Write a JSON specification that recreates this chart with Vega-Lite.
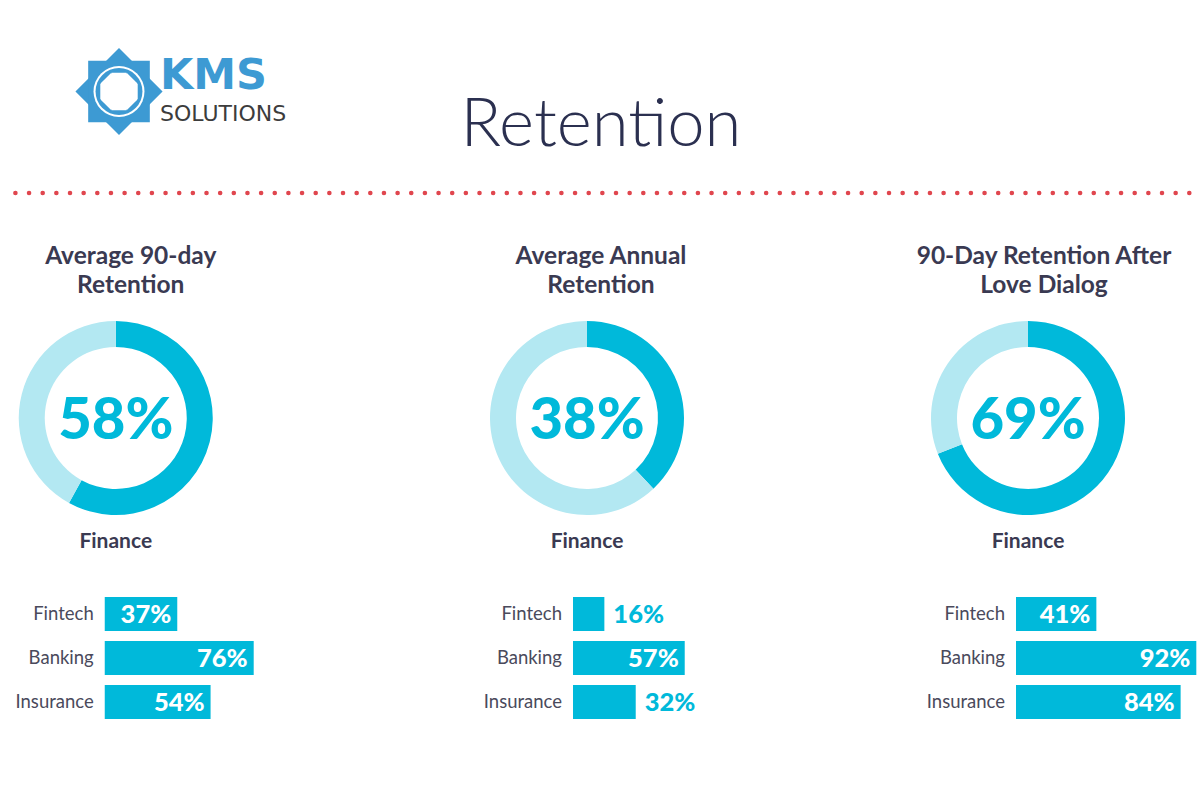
{
  "$schema": "https://vega.github.io/schema/vega-lite/v6.json",
  "background": "white",
  "padding": 0,
  "autosize": {"type": "pad"},
  "bounds": "flush",
  "spacing": 128,
  "config": {
    "view": {"stroke": null},
    "font": "Lato",
    "title": {"font": "Lato", "color": "#3a3a52", "fontWeight": "bold"}
  },
  "datasets": {
    "donut": [
      {"metric": "Average 90-day Retention", "seg": "Retained", "v": 0.58},
      {"metric": "Average 90-day Retention", "seg": "Not retained", "v": 0.42},
      {"metric": "Average Annual Retention", "seg": "Retained", "v": 0.38},
      {"metric": "Average Annual Retention", "seg": "Not retained", "v": 0.62},
      {"metric": "90-Day Retention After Love Dialog", "seg": "Retained", "v": 0.69},
      {"metric": "90-Day Retention After Love Dialog", "seg": "Not retained", "v": 0.31}
    ],
    "bars": [
      {"metric": "Average 90-day Retention", "sector": "Fintech", "v": 0.37},
      {"metric": "Average 90-day Retention", "sector": "Banking", "v": 0.76},
      {"metric": "Average 90-day Retention", "sector": "Insurance", "v": 0.54},
      {"metric": "Average Annual Retention", "sector": "Fintech", "v": 0.16},
      {"metric": "Average Annual Retention", "sector": "Banking", "v": 0.57},
      {"metric": "Average Annual Retention", "sector": "Insurance", "v": 0.32},
      {"metric": "90-Day Retention After Love Dialog", "sector": "Fintech", "v": 0.41},
      {"metric": "90-Day Retention After Love Dialog", "sector": "Banking", "v": 0.92},
      {"metric": "90-Day Retention After Love Dialog", "sector": "Insurance", "v": 0.84}
    ],
    "header": [{"title": "Retention", "brand": "KMS", "sub": "SOLUTIONS"}]
  },
  "vconcat": [
    {
      "width": 1200,
      "height": 193,
      "data": {"name": "header"},
      "layer": [
        {
          "mark": {"type": "rule", "color": "#E0464E", "strokeWidth": 4.5, "strokeDash": [0.1, 13.55], "strokeCap": "round"},
          "encoding": {"y": {"datum": 0, "type": "quantitative", "scale": {"domain": [0, 1]}, "axis": null}}
        },
        {
          "mark": {"type": "point", "shape": "diamond", "size": 7600, "filled": true, "color": "#3D9AD3", "opacity": 1, "strokeWidth": 0, "xOffset": -484, "yOffset": -5},
          "encoding": {}
        },
        {
          "mark": {"type": "point", "shape": "square", "size": 3800, "filled": true, "color": "#3D9AD3", "opacity": 1, "strokeWidth": 0, "xOffset": -484, "yOffset": -5},
          "encoding": {}
        },
        {
          "mark": {"type": "point", "shape": "circle", "size": 2600, "filled": true, "color": "white", "opacity": 1, "strokeWidth": 0, "xOffset": -484, "yOffset": -5},
          "encoding": {}
        },
        {
          "mark": {"type": "point", "shape": "circle", "size": 2200, "filled": true, "color": "#3D9AD3", "opacity": 1, "strokeWidth": 0, "xOffset": -484, "yOffset": -5},
          "encoding": {}
        },
        {
          "mark": {"type": "point", "shape": "cross", "size": 1400, "filled": true, "color": "white", "opacity": 1, "strokeWidth": 0, "xOffset": -484, "yOffset": -5},
          "encoding": {}
        },
        {
          "mark": {"type": "point", "shape": "cross", "size": 1400, "angle": 45, "filled": true, "color": "white", "opacity": 1, "strokeWidth": 0, "xOffset": -484, "yOffset": -5},
          "encoding": {}
        },
        {
          "mark": {"type": "point", "shape": "circle", "size": 700, "filled": true, "color": "white", "opacity": 1, "strokeWidth": 0, "xOffset": -484, "yOffset": -5},
          "encoding": {}
        },
        {
          "mark": {"type": "text", "font": "DejaVu Sans", "fontWeight": "bold", "fontSize": 43, "color": "#3D9AD3", "align": "left", "baseline": "alphabetic", "dx": -443, "dy": -8},
          "encoding": {"text": {"field": "brand"}}
        },
        {
          "mark": {"type": "text", "font": "DejaVu Sans", "fontSize": 22, "color": "#3c3c3c", "align": "left", "baseline": "alphabetic", "dx": -443, "dy": 24.5},
          "encoding": {"text": {"field": "sub"}}
        },
        {
          "mark": {"type": "text", "font": "Lato", "fontWeight": 300, "fontSize": 67, "color": "#2B3050", "align": "center", "baseline": "alphabetic", "dx": -2, "dy": 49.5},
          "encoding": {"text": {"field": "title"}}
        }
      ]
    },
    {
      "columns": 3,
      "align": "each",
      "bounds": "flush",
      "spacing": {"row": 77, "column": 0},
      "concat": [
        {
          "width": 225.5,
          "height": 194,
          "title": {"text": ["Average 90-day", "Retention"], "anchor": "middle", "dx": 15, "fontSize": 24.5, "lineHeight": 29, "offset": 23},
          "data": {"name": "donut"},
          "transform": [{"filter": "datum.metric === 'Average 90-day Retention'"}],
          "layer": [
            {
              "mark": {"type": "arc", "outerRadius": 97, "innerRadius": 71},
              "encoding": {
                "theta": {"field": "v", "type": "quantitative", "stack": true},
                "color": {"field": "seg", "type": "nominal", "scale": {"domain": ["Retained", "Not retained"], "range": ["#00B9DA", "#B3E8F2"]}, "legend": null},
                "order": {"field": "seg", "sort": "descending"}
              }
            },
            {
              "transform": [{"filter": "datum.seg === 'Retained'"}],
              "mark": {"type": "text", "fontSize": 58, "fontWeight": 900, "color": "#00B9DA", "baseline": "middle", "dy": 4},
              "encoding": {"text": {"field": "v", "type": "quantitative", "format": ".0%"}}
            }
          ]
        },
        {
          "width": 194,
          "height": 194,
          "title": {"text": ["Average Annual", "Retention"], "anchor": "middle", "dx": 14, "fontSize": 24.5, "lineHeight": 29, "offset": 23},
          "data": {"name": "donut"},
          "transform": [{"filter": "datum.metric === 'Average Annual Retention'"}],
          "layer": [
            {
              "mark": {"type": "arc", "outerRadius": 97, "innerRadius": 71},
              "encoding": {
                "theta": {"field": "v", "type": "quantitative", "stack": true},
                "color": {"field": "seg", "type": "nominal", "scale": {"domain": ["Retained", "Not retained"], "range": ["#00B9DA", "#B3E8F2"]}, "legend": null},
                "order": {"field": "seg", "sort": "descending"}
              }
            },
            {
              "transform": [{"filter": "datum.seg === 'Retained'"}],
              "mark": {"type": "text", "fontSize": 58, "fontWeight": 900, "color": "#00B9DA", "baseline": "middle", "dy": 4},
              "encoding": {"text": {"field": "v", "type": "quantitative", "format": ".0%"}}
            }
          ]
        },
        {
          "width": 194,
          "height": 194,
          "title": {"text": ["90-Day Retention After", "Love Dialog"], "anchor": "middle", "dx": 16, "fontSize": 24.5, "lineHeight": 29, "offset": 23},
          "data": {"name": "donut"},
          "transform": [{"filter": "datum.metric === '90-Day Retention After Love Dialog'"}],
          "layer": [
            {
              "mark": {"type": "arc", "outerRadius": 97, "innerRadius": 71},
              "encoding": {
                "theta": {"field": "v", "type": "quantitative", "stack": true},
                "color": {"field": "seg", "type": "nominal", "scale": {"domain": ["Retained", "Not retained"], "range": ["#00B9DA", "#B3E8F2"]}, "legend": null},
                "order": {"field": "seg", "sort": "descending"}
              }
            },
            {
              "transform": [{"filter": "datum.seg === 'Retained'"}],
              "mark": {"type": "text", "fontSize": 58, "fontWeight": 900, "color": "#00B9DA", "baseline": "middle", "dy": 4},
              "encoding": {"text": {"field": "v", "type": "quantitative", "format": ".0%"}}
            }
          ]
        },
        {
          "width": 486.75,
          "height": 132,
          "title": {"text": "Finance", "anchor": "start", "frame": "group", "align": "center", "dx": 112.75, "fontSize": 21, "offset": 40},
          "data": {"name": "bars"},
          "transform": [{"filter": "datum.metric === 'Average 90-day Retention'"}],
          "encoding": {
            "y": {"field": "sector", "type": "nominal", "sort": ["Fintech", "Banking", "Insurance"], "axis": null, "scale": {"paddingInner": 0.227, "paddingOuter": 0.1136}}
          },
          "layer": [
            {
              "mark": {"type": "bar", "color": "#00B9DA"},
              "encoding": {"x": {"field": "v", "type": "quantitative", "scale": {"domain": [-0.5191, 1.9643], "nice": false, "zero": false}, "axis": null}}
            },
            {
              "mark": {"type": "text", "align": "right", "dx": -11, "fontSize": 18.5, "color": "#4a4a5c"},
              "encoding": {"x": {"datum": 0, "type": "quantitative", "scale": {"domain": [-0.5191, 1.9643], "nice": false, "zero": false}}, "text": {"field": "sector"}}
            },
            {
              "transform": [{"filter": "datum.v >= 0.35"}],
              "mark": {"type": "text", "align": "right", "dx": -6, "dy": 1, "fontSize": 25.5, "fontWeight": 900, "color": "white"},
              "encoding": {"x": {"field": "v", "type": "quantitative", "scale": {"domain": [-0.5191, 1.9643], "nice": false, "zero": false}}, "text": {"field": "v", "type": "quantitative", "format": ".0%"}}
            },
            {
              "transform": [{"filter": "datum.v < 0.35"}],
              "mark": {"type": "text", "align": "left", "dx": 9, "dy": 1, "fontSize": 25.5, "fontWeight": 900, "color": "#00B9DA"},
              "encoding": {"x": {"field": "v", "type": "quantitative", "scale": {"domain": [-0.5191, 1.9643], "nice": false, "zero": false}}, "text": {"field": "v", "type": "quantitative", "format": ".0%"}}
            }
          ]
        },
        {
          "width": 441,
          "height": 132,
          "title": {"text": "Finance", "anchor": "start", "frame": "group", "align": "center", "dx": 97, "fontSize": 21, "offset": 40},
          "data": {"name": "bars"},
          "transform": [{"filter": "datum.metric === 'Average Annual Retention'"}],
          "encoding": {
            "y": {"field": "sector", "type": "nominal", "sort": ["Fintech", "Banking", "Insurance"], "axis": null, "scale": {"paddingInner": 0.227, "paddingOuter": 0.1136}}
          },
          "layer": [
            {
              "mark": {"type": "bar", "color": "#00B9DA"},
              "encoding": {"x": {"field": "v", "type": "quantitative", "scale": {"domain": [-0.4235, 1.8265], "nice": false, "zero": false}, "axis": null}}
            },
            {
              "mark": {"type": "text", "align": "right", "dx": -11, "fontSize": 18.5, "color": "#4a4a5c"},
              "encoding": {"x": {"datum": 0, "type": "quantitative", "scale": {"domain": [-0.4235, 1.8265], "nice": false, "zero": false}}, "text": {"field": "sector"}}
            },
            {
              "transform": [{"filter": "datum.v >= 0.35"}],
              "mark": {"type": "text", "align": "right", "dx": -6, "dy": 1, "fontSize": 25.5, "fontWeight": 900, "color": "white"},
              "encoding": {"x": {"field": "v", "type": "quantitative", "scale": {"domain": [-0.4235, 1.8265], "nice": false, "zero": false}}, "text": {"field": "v", "type": "quantitative", "format": ".0%"}}
            },
            {
              "transform": [{"filter": "datum.v < 0.35"}],
              "mark": {"type": "text", "align": "left", "dx": 9, "dy": 1, "fontSize": 25.5, "fontWeight": 900, "color": "#00B9DA"},
              "encoding": {"x": {"field": "v", "type": "quantitative", "scale": {"domain": [-0.4235, 1.8265], "nice": false, "zero": false}}, "text": {"field": "v", "type": "quantitative", "format": ".0%"}}
            }
          ]
        },
        {
          "width": 270,
          "height": 132,
          "title": {"text": "Finance", "anchor": "start", "frame": "group", "align": "center", "dx": 97, "fontSize": 21, "offset": 40},
          "data": {"name": "bars"},
          "transform": [{"filter": "datum.metric === '90-Day Retention After Love Dialog'"}],
          "encoding": {
            "y": {"field": "sector", "type": "nominal", "sort": ["Fintech", "Banking", "Insurance"], "axis": null, "scale": {"paddingInner": 0.227, "paddingOuter": 0.1136}}
          },
          "layer": [
            {
              "mark": {"type": "bar", "color": "#00B9DA"},
              "encoding": {"x": {"field": "v", "type": "quantitative", "scale": {"domain": [-0.4337, 0.9439], "nice": false, "zero": false}, "axis": null}}
            },
            {
              "mark": {"type": "text", "align": "right", "dx": -11, "fontSize": 18.5, "color": "#4a4a5c"},
              "encoding": {"x": {"datum": 0, "type": "quantitative", "scale": {"domain": [-0.4337, 0.9439], "nice": false, "zero": false}}, "text": {"field": "sector"}}
            },
            {
              "transform": [{"filter": "datum.v >= 0.35"}],
              "mark": {"type": "text", "align": "right", "dx": -6, "dy": 1, "fontSize": 25.5, "fontWeight": 900, "color": "white"},
              "encoding": {"x": {"field": "v", "type": "quantitative", "scale": {"domain": [-0.4337, 0.9439], "nice": false, "zero": false}}, "text": {"field": "v", "type": "quantitative", "format": ".0%"}}
            },
            {
              "transform": [{"filter": "datum.v < 0.35"}],
              "mark": {"type": "text", "align": "left", "dx": 9, "dy": 1, "fontSize": 25.5, "fontWeight": 900, "color": "#00B9DA"},
              "encoding": {"x": {"field": "v", "type": "quantitative", "scale": {"domain": [-0.4337, 0.9439], "nice": false, "zero": false}}, "text": {"field": "v", "type": "quantitative", "format": ".0%"}}
            }
          ]
        }
      ]
    }
  ]
}
